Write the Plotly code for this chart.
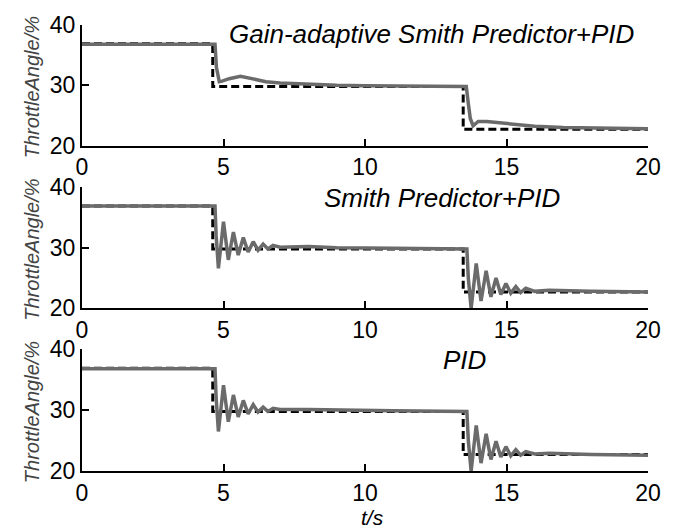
import plotly.graph_objects as go

# ---------------- data ----------------
ref_t = [0, 4.62, 4.62, 13.47, 13.47, 20]
ref_y = [36.9, 36.9, 29.8, 29.8, 22.7, 22.7]

ga_t = [0, 4.70, 4.75, 4.85, 4.95, 5.2, 5.6, 6.0, 6.5, 7.0, 8.0, 9.0, 10.0, 12.0, 13.58,
        13.65, 13.72, 13.82, 14.0, 14.3, 15.0, 15.5, 16.0, 17.0, 18.0, 20.0]
ga_y = [36.8, 36.8, 33.0, 30.6, 30.7, 31.1, 31.5, 31.1, 30.6, 30.4, 30.2, 30.0, 29.95, 29.85, 29.8,
        27.0, 24.5, 23.3, 24.0, 24.0, 23.7, 23.4, 23.2, 23.0, 22.9, 22.8]

sp_t = [0, 4.70, 4.74, 4.82, 5.00, 5.17, 5.35, 5.52, 5.70, 5.87, 6.05, 6.22, 6.40, 6.57, 6.75,
        7.0, 8.0, 9.0, 11.0, 13.6,
        13.65, 13.75, 13.93, 14.10, 14.28, 14.45, 14.63, 14.80, 14.98, 15.15, 15.33, 15.50,
        15.68, 16.0, 16.5, 18.0, 20.0]
sp_y = [36.9, 36.9, 32.0, 26.6, 34.3, 28.0, 32.6, 28.8, 31.7, 29.3, 31.0, 29.6, 30.6, 29.8, 30.4,
        30.1, 30.2, 30.0, 29.9, 29.8,
        25.0, 20.0, 27.4, 21.2, 26.2, 21.9, 25.0, 22.3, 24.1, 22.5, 23.6, 22.6,
        23.3, 22.8, 23.0, 22.8, 22.7]

pid_t = [0, 4.70, 4.74, 4.82, 5.00, 5.17, 5.35, 5.52, 5.70, 5.87, 6.05, 6.22, 6.40, 6.57, 6.75,
         7.0, 8.0, 9.0, 11.0, 13.6,
         13.65, 13.75, 13.93, 14.10, 14.28, 14.45, 14.63, 14.80, 14.98, 15.15, 15.33, 15.50,
         15.68, 16.0, 16.5, 18.0, 20.0]
pid_y = [36.8, 36.8, 32.0, 26.5, 34.1, 28.1, 32.5, 28.9, 31.6, 29.4, 30.9, 29.7, 30.5, 29.8, 30.3,
         30.1, 30.1, 30.0, 29.9, 29.8,
         25.0, 20.0, 27.5, 21.3, 26.1, 21.9, 24.9, 22.3, 24.0, 22.5, 23.5, 22.6,
         23.2, 22.8, 22.9, 22.7, 22.6]

titles = ["Gain-adaptive Smith Predictor+PID", "Smith Predictor+PID", "PID"]
x_ticks = [0, 5, 10, 15, 20]
y_ticks = [20, 30, 40]

# ---------------- figure ----------------
W, H = 684, 529
ml, mr, mt, mb = 82, 36, 20, 58
ph = H - mt - mb
pw = W - ml - mr

def fy(px):  # pixel y -> paper
    return (H - mb - px) / ph

def fx(px):
    return (px - ml) / pw

panels = [(20, 142), (184, 306.5), (348, 471)]
series = [(ga_t, ga_y), (sp_t, sp_y), (pid_t, pid_y)]

fig = go.Figure()
font = "Liberation Sans, Arial, sans-serif"

for i, ((top, bot), (t, y)) in enumerate(zip(panels, series)):
    k = "" if i == 0 else str(i + 1)
    fig.add_trace(go.Scatter(x=ref_t, y=ref_y, mode="lines",
                             line=dict(color="black", width=3, dash="8px,4px"),
                             xaxis="x" + k, yaxis="y" + k, showlegend=False))
    fig.add_trace(go.Scatter(x=t, y=y, mode="lines",
                             line=dict(color="#6b6b6b", width=3.5),
                             xaxis="x" + k, yaxis="y" + k, showlegend=False))
    dom = [fy(bot), fy(top)]
    fig.layout["xaxis" + k] = dict(domain=[0, 1], anchor="y" + k, range=[0, 20],
                                   tickvals=x_ticks, ticks="inside", ticklen=7, tickwidth=2,
                                   tickcolor="black", showline=True, linecolor="black",
                                   linewidth=2, showgrid=False, zeroline=False,
                                   tickfont=dict(family=font, size=23, color="black"))
    fig.layout["yaxis" + k] = dict(domain=dom, anchor="x" + k, range=[20, 40],
                                   tickvals=y_ticks, ticks="inside", ticklen=7, tickwidth=2,
                                   tickcolor="black", showline=True, linecolor="black",
                                   linewidth=2, showgrid=False, zeroline=False,
                                   tickfont=dict(family=font, size=23, color="black"))
    fig.add_annotation(text="ThrottleAngle/%", textangle=-90, xref="paper", yref="paper",
                       x=fx(32), y=fy((top + bot) / 2 + 2), xanchor="center", yanchor="middle",
                       showarrow=False,
                       font=dict(family=font, size=20, color="#444444", style="italic"))

title_pos = [(431, 29), (442, 195), (464, 359)]
for txt, (px, py) in zip(titles, title_pos):
    fig.add_annotation(text=txt, xref="paper", yref="paper", x=fx(px), y=fy(py),
                       xanchor="center", yanchor="middle", showarrow=False,
                       font=dict(family=font, size=26, color="black", style="italic"))

fig.add_annotation(text="t/s", xref="paper", yref="paper", x=fx(372), y=fy(518),
                   xanchor="center", yanchor="middle", showarrow=False,
                   font=dict(family=font, size=21, color="black", style="italic"))

fig.update_layout(width=W, height=H, margin=dict(l=ml, r=mr, t=mt, b=mb),
                  paper_bgcolor="white", plot_bgcolor="white")

fig.write_html("out.html")
